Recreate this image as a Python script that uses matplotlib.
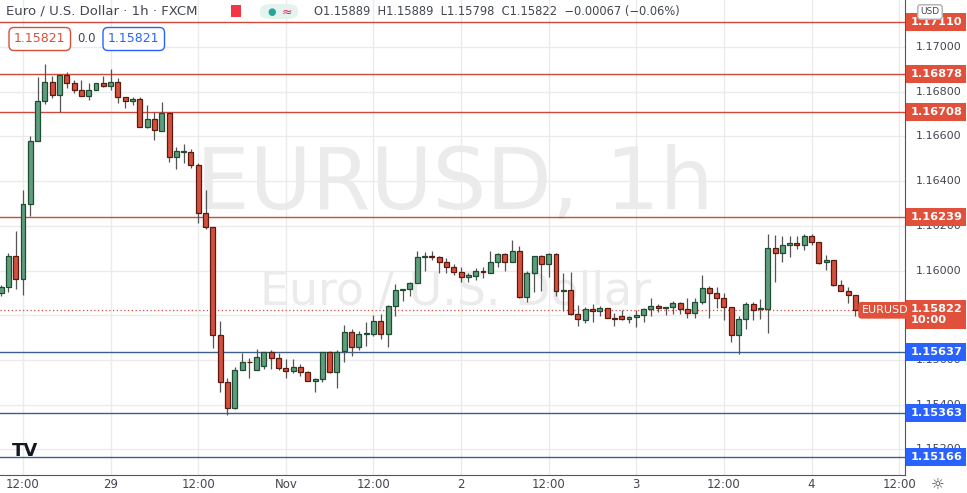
import matplotlib
matplotlib.use("Agg")
import matplotlib.pyplot as plt
import matplotlib.transforms as mtransforms
from matplotlib.patches import Rectangle, FancyBboxPatch
import numpy as np

# EURUSD 1h candles
opens = [1.15900, 1.15926, 1.16065, 1.15962, 1.16297, 1.16579, 1.16757, 1.16843, 1.16784, 1.16873,
         1.16838, 1.16807, 1.16780, 1.16807, 1.16838, 1.16825, 1.16843, 1.16775, 1.16757, 1.16766,
         1.16642, 1.16677, 1.16624, 1.16704, 1.16507, 1.16530, 1.16530, 1.16472, 1.16257, 1.16194,
         1.15712, 1.15502, 1.15385, 1.15555, 1.15591, 1.15555, 1.15573, 1.15636, 1.15609, 1.15564,
         1.15551, 1.15569, 1.15546, 1.15506, 1.15515, 1.15636, 1.15546, 1.15640, 1.15725, 1.15658,
         1.15716, 1.15716, 1.15774, 1.15716, 1.15841, 1.15913, 1.15917, 1.15944, 1.16060, 1.16065,
         1.16060, 1.16038, 1.16016, 1.15993, 1.15971, 1.15976, 1.15998, 1.15989, 1.16038, 1.16074,
         1.16038, 1.16087, 1.15882, 1.15989, 1.16065, 1.16029, 1.16074, 1.15909, 1.15913, 1.15806,
         1.15779, 1.15828, 1.15819, 1.15832, 1.15788, 1.15797, 1.15783, 1.15792, 1.15801, 1.15828,
         1.15841, 1.15832, 1.15837, 1.15854, 1.15828, 1.15810, 1.15859, 1.15922, 1.15900, 1.15877,
         1.15837, 1.15712, 1.15783, 1.15850, 1.15828, 1.15828, 1.16101, 1.16078, 1.16114, 1.16123,
         1.16114, 1.16154, 1.16127, 1.16038, 1.16047, 1.15935, 1.15909, 1.15889]
highs = [1.15935, 1.16079, 1.16177, 1.16360, 1.16601, 1.16865, 1.16923, 1.16869, 1.16874, 1.16887,
         1.16852, 1.16852, 1.16838, 1.16838, 1.16869, 1.16900, 1.16860, 1.16775, 1.16775, 1.16775,
         1.16740, 1.16708, 1.16753, 1.16704, 1.16552, 1.16565, 1.16543, 1.16481, 1.16360, 1.16194,
         1.15774, 1.15519, 1.15569, 1.15631, 1.15609, 1.15649, 1.15636, 1.15645, 1.15631, 1.15604,
         1.15604, 1.15582, 1.15551, 1.15519, 1.15636, 1.15640, 1.15645, 1.15756, 1.15738, 1.15730,
         1.15770, 1.15801, 1.15806, 1.15846, 1.15940, 1.15917, 1.15949, 1.16087, 1.16083, 1.16087,
         1.16065, 1.16056, 1.16029, 1.16016, 1.15989, 1.16011, 1.16016, 1.16087, 1.16079, 1.16079,
         1.16136, 1.16110, 1.15998, 1.16065, 1.16070, 1.16079, 1.16079, 1.15989, 1.15993, 1.15846,
         1.15837, 1.15850, 1.15841, 1.15832, 1.15810, 1.15824, 1.15797, 1.15824, 1.15832, 1.15877,
         1.15850, 1.15837, 1.15863, 1.15859, 1.15877, 1.15877, 1.15980, 1.15931, 1.15926, 1.15900,
         1.15837, 1.15797, 1.15859, 1.15859, 1.15873, 1.16163, 1.16159, 1.16154, 1.16154, 1.16154,
         1.16163, 1.16163, 1.16127, 1.16069, 1.16047, 1.15958, 1.15926, 1.15889]
lows = [1.15886, 1.15904, 1.15917, 1.15891, 1.16243, 1.16579, 1.16744, 1.16771, 1.16708, 1.16815,
        1.16793, 1.16780, 1.16762, 1.16807, 1.16820, 1.16807, 1.16749, 1.16726, 1.16740, 1.16642,
        1.16637, 1.16583, 1.16624, 1.16485, 1.16454, 1.16481, 1.16458, 1.16212, 1.16185, 1.15654,
        1.15457, 1.15354, 1.15381, 1.15555, 1.15520, 1.15555, 1.15560, 1.15560, 1.15555, 1.15520,
        1.15542, 1.15529, 1.15506, 1.15457, 1.15502, 1.15542, 1.15475, 1.15591, 1.15618, 1.15645,
        1.15663, 1.15707, 1.15694, 1.15658, 1.15797, 1.15863, 1.15886, 1.15944, 1.15996, 1.16047,
        1.15991, 1.15991, 1.15980, 1.15949, 1.15949, 1.15958, 1.15967, 1.15989, 1.16016, 1.15998,
        1.16038, 1.15877, 1.15859, 1.15904, 1.15909, 1.15971, 1.15886, 1.15819, 1.15801, 1.15752,
        1.15765, 1.15770, 1.15797, 1.15788, 1.15752, 1.15779, 1.15765, 1.15747, 1.15770, 1.15797,
        1.15815, 1.15801, 1.15806, 1.15806, 1.15788, 1.15788, 1.15850, 1.15788, 1.15832, 1.15779,
        1.15680, 1.15627, 1.15739, 1.15779, 1.15783, 1.15721, 1.15949, 1.16038, 1.16060, 1.16096,
        1.16092, 1.16114, 1.16029, 1.16002, 1.15931, 1.15909, 1.15855, 1.15798]
closes = [1.15926, 1.16065, 1.15962, 1.16297, 1.16579, 1.16757, 1.16843, 1.16784, 1.16873, 1.16838,
          1.16807, 1.16780, 1.16807, 1.16838, 1.16825, 1.16843, 1.16775, 1.16757, 1.16766, 1.16642,
          1.16677, 1.16628, 1.16704, 1.16507, 1.16534, 1.16532, 1.16472, 1.16257, 1.16194, 1.15712,
          1.15502, 1.15385, 1.15555, 1.15591, 1.15589, 1.15613, 1.15636, 1.15609, 1.15564, 1.15551,
          1.15569, 1.15546, 1.15506, 1.15515, 1.15636, 1.15546, 1.15636, 1.15725, 1.15658, 1.15716,
          1.15720, 1.15774, 1.15716, 1.15841, 1.15913, 1.15917, 1.15944, 1.16060, 1.16065, 1.16060,
          1.16038, 1.16016, 1.15993, 1.15971, 1.15980, 1.15998, 1.15993, 1.16038, 1.16074, 1.16038,
          1.16087, 1.15882, 1.15989, 1.16065, 1.16029, 1.16074, 1.15909, 1.15909, 1.15806, 1.15783,
          1.15828, 1.15819, 1.15832, 1.15788, 1.15783, 1.15783, 1.15792, 1.15801, 1.15828, 1.15841,
          1.15832, 1.15837, 1.15854, 1.15828, 1.15810, 1.15859, 1.15922, 1.15900, 1.15877, 1.15837,
          1.15712, 1.15783, 1.15850, 1.15823, 1.15828, 1.16101, 1.16078, 1.16114, 1.16123, 1.16114,
          1.16154, 1.16127, 1.16033, 1.16047, 1.15935, 1.15909, 1.15891, 1.15822]

resistance = [1.17110, 1.16878, 1.16708, 1.16239]
support = [1.15637, 1.15363, 1.15166]
last_price = 1.15822
price_ticks = [1.1520, 1.1540, 1.1560, 1.1580, 1.1600, 1.1620, 1.1640, 1.1660, 1.1680, 1.1700]
time_ticks = [3, 15, 27, 39, 51, 63, 75, 87, 99, 111, 123]
time_labels = ["12:00", "29", "12:00", "Nov", "12:00", "2", "12:00", "3", "12:00", "4", "12:00"]

UP, UP_EDGE = "#5f9e7d", "#1e4d33"
DN, DN_EDGE = "#d4503c", "#5a1a12"
RED_LINE, RED_BOX = "#cf4a3c", "#e0503a"
BLUE_LINE, BLUE_BOX = "#3b5f8a", "#2962ff"
GRID = "#ebebeb"
TXT = "#434651"

W, H = 967, 493
fig = plt.figure(figsize=(W / 100, H / 100), dpi=100)
fig.patch.set_facecolor("white")
ax = fig.add_axes([0, 18 / H, 905 / W, 475 / H])
ax.set_xlim(-0.15, 123.8)
ax.set_ylim(1.15086, 1.17209)
for s in ["top", "left"]:
    ax.spines[s].set_visible(False)
ax.spines["right"].set_color("#555555")
ax.spines["bottom"].set_color("#555555")
ax.set_yticks([])
ax.set_xticks([])

for t in time_ticks:
    ax.axvline(t, color=GRID, lw=1, zorder=0)
for p in price_ticks:
    ax.axhline(p, color=GRID, lw=1, zorder=0)

# watermark
ax.text(0.503, 0.61, "EURUSD, 1h", transform=ax.transAxes, ha="center", va="center",
        fontsize=61, color="#ebebeb", zorder=0.5)
ax.text(0.503, 0.385, "Euro / U.S. Dollar", transform=ax.transAxes, ha="center", va="center",
        fontsize=33, color="#ebebeb", zorder=0.5)

for p in resistance:
    ax.axhline(p, color=RED_LINE, lw=1, zorder=1)
for p in support:
    ax.axhline(p, color=BLUE_LINE, lw=1, zorder=1)
ax.axhline(last_price, color=DN, lw=0.9, ls=(0, (1, 2)), zorder=1)

bw = 0.68
for i, (o, h, l, c) in enumerate(zip(opens, highs, lows, closes)):
    up = c >= o
    fc, ec = (UP, UP_EDGE) if up else (DN, DN_EDGE)
    ax.vlines(i, l, h, color="#555555", lw=0.9, zorder=2)
    lo, hi = min(o, c), max(o, c)
    if hi - lo < 0.00003:
        hi = lo + 0.00003
    ax.add_patch(Rectangle((i - bw / 2, lo), bw, hi - lo, facecolor=fc, edgecolor=ec, lw=0.9, zorder=3))

# right price axis
tr = mtransforms.blended_transform_factory(ax.transAxes, ax.transData)
for p in price_ticks:
    ax.text(1.012, p, f"{p:.5f}", transform=tr, ha="left", va="center", fontsize=8,
            color=TXT, clip_on=False, zorder=4)

def price_box(p, label, color):
    ax.text(1.006, p, label, transform=tr, ha="left", va="center", fontsize=8.2,
            fontweight="bold", color="white", clip_on=False, zorder=10,
            bbox=dict(boxstyle="square,pad=0.35", fc=color, ec="none"))

for p in resistance:
    price_box(p, f"{p:.5f}", RED_BOX)
for p in support:
    price_box(p, f"{p:.5f}", BLUE_BOX)
ax.text(1.006, last_price - 0.00018, f"{last_price:.5f}\n10:00", transform=tr, ha="left", va="center",
        fontsize=8.2, fontweight="bold", color="white", clip_on=False, zorder=10, linespacing=1.2,
        bbox=dict(boxstyle="square,pad=0.35", fc=RED_BOX, ec="none"))
ax.text(0.952, last_price, "EURUSD", transform=tr, ha="left", va="center", fontsize=8,
        color="white", zorder=10, bbox=dict(boxstyle="round,pad=0.3", fc=RED_BOX, ec="none"))

# time axis
trx = mtransforms.blended_transform_factory(ax.transData, ax.transAxes)
for t, lab in zip(time_ticks, time_labels):
    ax.text(t, -0.019, lab, transform=trx, ha="center", va="center", fontsize=8.5, color=TXT, clip_on=False)

# header
fig.text(6 / W, 1 - 11 / H, "Euro / U.S. Dollar · 1h · FXCM", fontsize=9.5, color=TXT, va="center")
fig.patches.append(Rectangle((231 / W, 1 - 17 / H), 10 / W, 12 / H, transform=fig.transFigure,
                             fc="#f23645", ec="none"))
fig.patches.append(FancyBboxPatch((260 / W, 1 - 19 / H), 38 / W, 15 / H, transform=fig.transFigure,
                                  boxstyle="round,pad=0,rounding_size=0.012", fc="#e4f3ee", ec="none"))
fig.text(272 / W, 1 - 12 / H, "●", fontsize=7, color="#26a69a", ha="center", va="center")
fig.text(287 / W, 1 - 12 / H, "≈", fontsize=9, color="#e91e63", ha="center", va="center")
fig.text(314 / W, 1 - 12 / H, "O1.15889  H1.15889  L1.15798  C1.15822  −0.00067 (−0.06%)",
         fontsize=8.3, color=TXT, va="center")
fig.text(14 / W, 1 - 39 / H, "1.15821", fontsize=9, color=DN, va="center",
         bbox=dict(boxstyle="round,pad=0.4", fc="white", ec=DN))
fig.text(77 / W, 1 - 39 / H, "0.0", fontsize=8.5, color=TXT, va="center")
fig.text(108 / W, 1 - 39 / H, "1.15821", fontsize=9, color="#2962ff", va="center",
         bbox=dict(boxstyle="round,pad=0.4", fc="white", ec="#2962ff"))
fig.text(930 / W, 1 - 12 / H, "USD", fontsize=6.5, color=TXT, ha="center", va="center",
         bbox=dict(boxstyle="round,pad=0.3", fc="white", ec="#b0b0b0"))
fig.text(25 / W, 1 - 451 / H, "TV", fontsize=13, fontweight="bold", color="#131722",
         ha="center", va="center")
fig.text(938 / W, 1 - 485 / H, "☼", fontsize=11, color=TXT, ha="center", va="center")

fig.savefig("out.png", dpi=100)
